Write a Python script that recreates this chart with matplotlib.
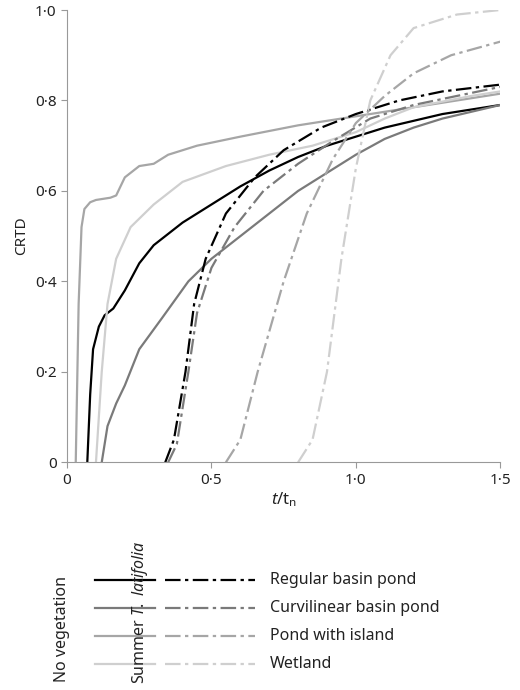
import matplotlib
matplotlib.use("Agg")
import matplotlib.pyplot as plt
from matplotlib.lines import Line2D
from matplotlib.ticker import FixedLocator

plt.rcParams['font.family'] = ['Noto Sans', 'DejaVu Sans']
plt.rcParams['mathtext.fontset'] = 'custom'
plt.rcParams['mathtext.it'] = 'Noto Sans:italic'
plt.rcParams['mathtext.rm'] = 'Noto Sans'

# No vegetation (solid)
nv_reg_x = [0.07,0.08,0.09,0.11,0.13,0.16,0.2,0.25,0.3,0.4,0.5,0.6,0.7,0.8,0.9,1.0,1.1,1.2,1.3,1.4,1.5]
nv_reg_y = [0,0.15,0.25,0.30,0.325,0.34,0.38,0.44,0.48,0.53,0.57,0.61,0.645,0.675,0.70,0.72,0.74,0.755,0.77,0.78,0.79]
nv_cur_x = [0.12,0.14,0.17,0.2,0.25,0.33,0.42,0.5,0.6,0.7,0.8,0.9,1.0,1.1,1.2,1.3,1.4,1.5]
nv_cur_y = [0,0.08,0.13,0.17,0.25,0.32,0.40,0.45,0.50,0.55,0.60,0.64,0.68,0.715,0.74,0.76,0.775,0.79]
nv_isl_x = [0.03,0.04,0.05,0.06,0.08,0.1,0.15,0.17,0.2,0.25,0.3,0.35,0.45,0.6,0.8,1.0,1.2,1.35,1.5]
nv_isl_y = [0,0.35,0.52,0.56,0.575,0.58,0.585,0.59,0.63,0.655,0.66,0.68,0.70,0.72,0.745,0.765,0.785,0.80,0.815]
nv_wet_x = [0.1,0.11,0.12,0.14,0.17,0.22,0.3,0.4,0.55,0.7,0.85,1.0,1.1,1.2,1.4,1.5]
nv_wet_y = [0,0.1,0.2,0.35,0.45,0.52,0.57,0.62,0.655,0.68,0.70,0.73,0.76,0.785,0.81,0.82]

# Summer T. latifolia (dash-dot)
tl_reg_x = [0.34,0.37,0.41,0.44,0.48,0.55,0.65,0.75,0.88,1.0,1.15,1.3,1.5]
tl_reg_y = [0,0.05,0.2,0.35,0.45,0.55,0.63,0.69,0.74,0.77,0.80,0.82,0.835]
tl_cur_x = [0.35,0.38,0.42,0.45,0.5,0.58,0.68,0.8,0.92,1.05,1.2,1.35,1.5]
tl_cur_y = [0,0.04,0.2,0.33,0.43,0.52,0.60,0.66,0.71,0.76,0.79,0.81,0.83]
tl_isl_x = [0.55,0.6,0.66,0.75,0.83,0.92,1.0,1.1,1.2,1.33,1.5]
tl_isl_y = [0,0.05,0.2,0.4,0.55,0.67,0.75,0.81,0.86,0.90,0.93]
tl_wet_x = [0.8,0.85,0.9,0.95,1.0,1.05,1.12,1.2,1.35,1.5]
tl_wet_y = [0,0.05,0.2,0.45,0.65,0.80,0.90,0.96,0.99,1.0]

labels = ['Regular basin pond','Curvilinear basin pond','Pond with island','Wetland']
colors = ['#000000','#7a7a7a','#a6a6a6','#cfcfcf']
xticks = [0,0.5,1.0,1.5]; xtl = ['0','0·5','1·0','1·5']
yticks = [0,0.2,0.4,0.6,0.8,1.0]; ytl = ['0','0·2','0·4','0·6','0·8','1·0']

fig = plt.figure(figsize=(5.2,6.9), dpi=100)
ax = fig.add_axes([0.129,0.330,0.833,0.6555])
solid = [(nv_reg_x,nv_reg_y),(nv_cur_x,nv_cur_y),(nv_isl_x,nv_isl_y),(nv_wet_x,nv_wet_y)]
dd = [(tl_reg_x,tl_reg_y),(tl_cur_x,tl_cur_y),(tl_isl_x,tl_isl_y),(tl_wet_x,tl_wet_y)]
for (x,y),c in zip(solid,colors):
    ax.plot(x,y,color=c,lw=1.6,ls='-')
for (x,y),c in zip(dd,colors):
    ax.plot(x,y,color=c,lw=1.6,ls=(0,(7,2,1.5,2)))
ax.set_xlim(0,1.5); ax.set_ylim(0,1.0)
ax.xaxis.set_major_locator(FixedLocator(xticks)); ax.set_xticklabels(xtl)
ax.yaxis.set_major_locator(FixedLocator(yticks)); ax.set_yticklabels(ytl)
for s in ['top','right']:
    ax.spines[s].set_visible(False)
for s in ['left','bottom']:
    ax.spines[s].set_color('#999999')
ax.tick_params(colors='#999999', labelcolor='#222222', labelsize=11, direction='out', length=4)
ax.set_ylabel('CRTD', fontsize=11, color='#222222')
ax.set_xlabel(r'$t$/t$_{\rm n}$', fontsize=12, color='#222222', labelpad=2)

rows = [580,608,636,664]
for r,c,l in zip(rows,colors,labels):
    yf = 1 - r/690
    fig.add_artist(Line2D([95/520,155/520],[yf,yf],color=c,lw=1.6,transform=fig.transFigure))
    fig.add_artist(Line2D([165/520,255/520],[yf,yf],color=c,lw=1.6,ls=(0,(7,2,1.5,2)),transform=fig.transFigure))
    fig.text(270/520,yf,l,fontsize=11.5,va='center',ha='left',color='#222222')
fig.text(62/520,8/690,'No vegetation',rotation=90,fontsize=11.5,va='bottom',ha='center',color='#222222')
fig.text(140/520,6/690,r'Summer $T.\ latifolia$',rotation=90,fontsize=11.5,va='bottom',ha='center',color='#222222')
fig.savefig('out.png',dpi=100)
